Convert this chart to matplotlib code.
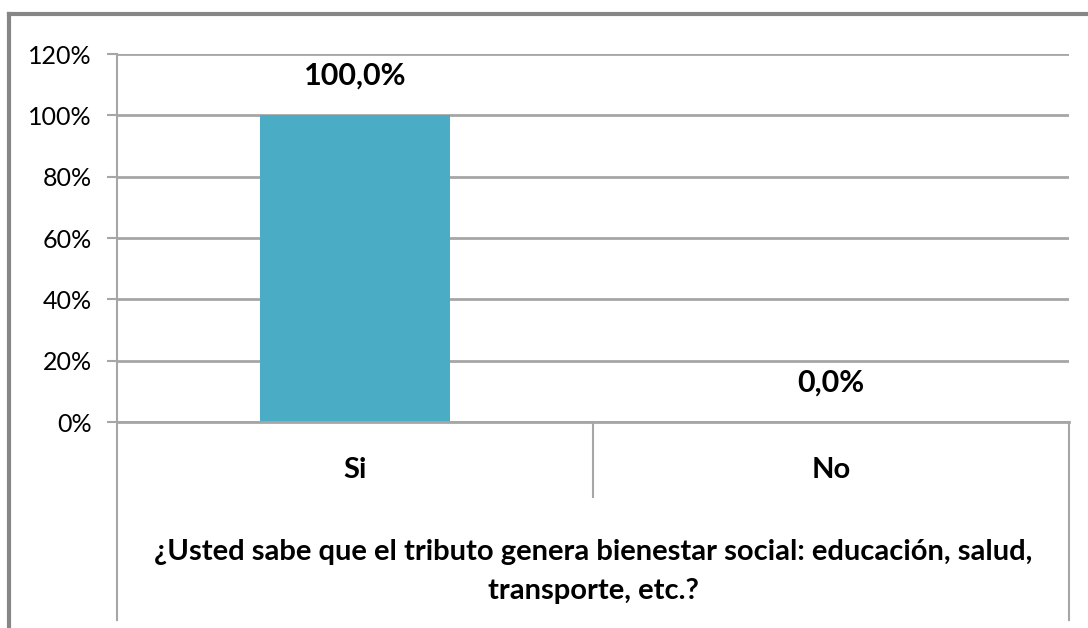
import matplotlib
matplotlib.use('Agg')
import matplotlib.pyplot as plt
from matplotlib.lines import Line2D
import numpy as np

plt.rcParams['font.family'] = ['Lato', 'DejaVu Sans']

categories = ['Si', 'No']
values = [100.0, 0.0]
yticks = [0, 20, 40, 60, 80, 100, 120]
question = '¿Usted sabe que el tributo genera bienestar social: educación, salud,\ntransporte, etc.?'

bar_color = '#4BACC6'
grid_color = '#A6A6A6'

fig = plt.figure(figsize=(10.88, 6.28), dpi=100)
ax = fig.add_axes([117 / 1088, 1 - 422 / 628, (1069 - 117) / 1088, (422 - 54) / 628])

x = np.arange(len(categories))
ax.bar(x, values, width=0.4, color=bar_color, zorder=3)

# etiquetas de datos, coma decimal
for xi, v in zip(x, values):
    ax.text(xi, v + 13, f'{v:.1f}%'.replace('.', ','), ha='center', va='center',
            fontsize=22, fontweight='bold', color='black')

ax.set_xlim(-0.5, len(categories) - 0.5)
ax.set_ylim(0, 120)
ax.set_yticks(yticks)
ax.set_yticklabels([f'{t}%' for t in yticks], fontsize=18)
ax.tick_params(axis='y', length=7, width=1.5, color=grid_color, pad=11)
ax.set_xticks([])
ax.yaxis.grid(True, color=grid_color, linewidth=2, zorder=0)
for s in ['top', 'right', 'bottom']:
    ax.spines[s].set_visible(False)
ax.spines['left'].set_color(grid_color)
ax.spines['left'].set_linewidth(1.5)

# horizontal axis line and category boxes
trans = ax.get_xaxis_transform()
ax.plot([-0.5, len(categories) - 0.5], [0, 0], transform=trans, color=grid_color,
        lw=2, clip_on=False, zorder=4)
bounds = np.arange(len(categories) + 1) - 0.5
for i, b in enumerate(bounds):
    low = -0.538 if i in (0, len(bounds) - 1) else -0.204
    ax.plot([b, b], [0, low], transform=trans, color=grid_color, lw=1.5, clip_on=False)

for xi, c in zip(x, categories):
    ax.text(xi, -0.13, c, transform=trans, ha='center', va='center',
            fontsize=21, fontweight='bold')

ax.text(0.5, -0.407, question, transform=ax.transAxes, ha='center', va='center',
        fontsize=21, fontweight='bold', linespacing=1.62)

# outer chart frame
fig.add_artist(Line2D([9 / 1088, 9 / 1088], [0, 1 - 14 / 628], color='#868686', lw=3,
                      transform=fig.transFigure))
fig.add_artist(Line2D([9 / 1088, 1], [1 - 14 / 628, 1 - 14 / 628], color='#868686', lw=3,
                      transform=fig.transFigure))

fig.savefig('out.png', dpi=100)
